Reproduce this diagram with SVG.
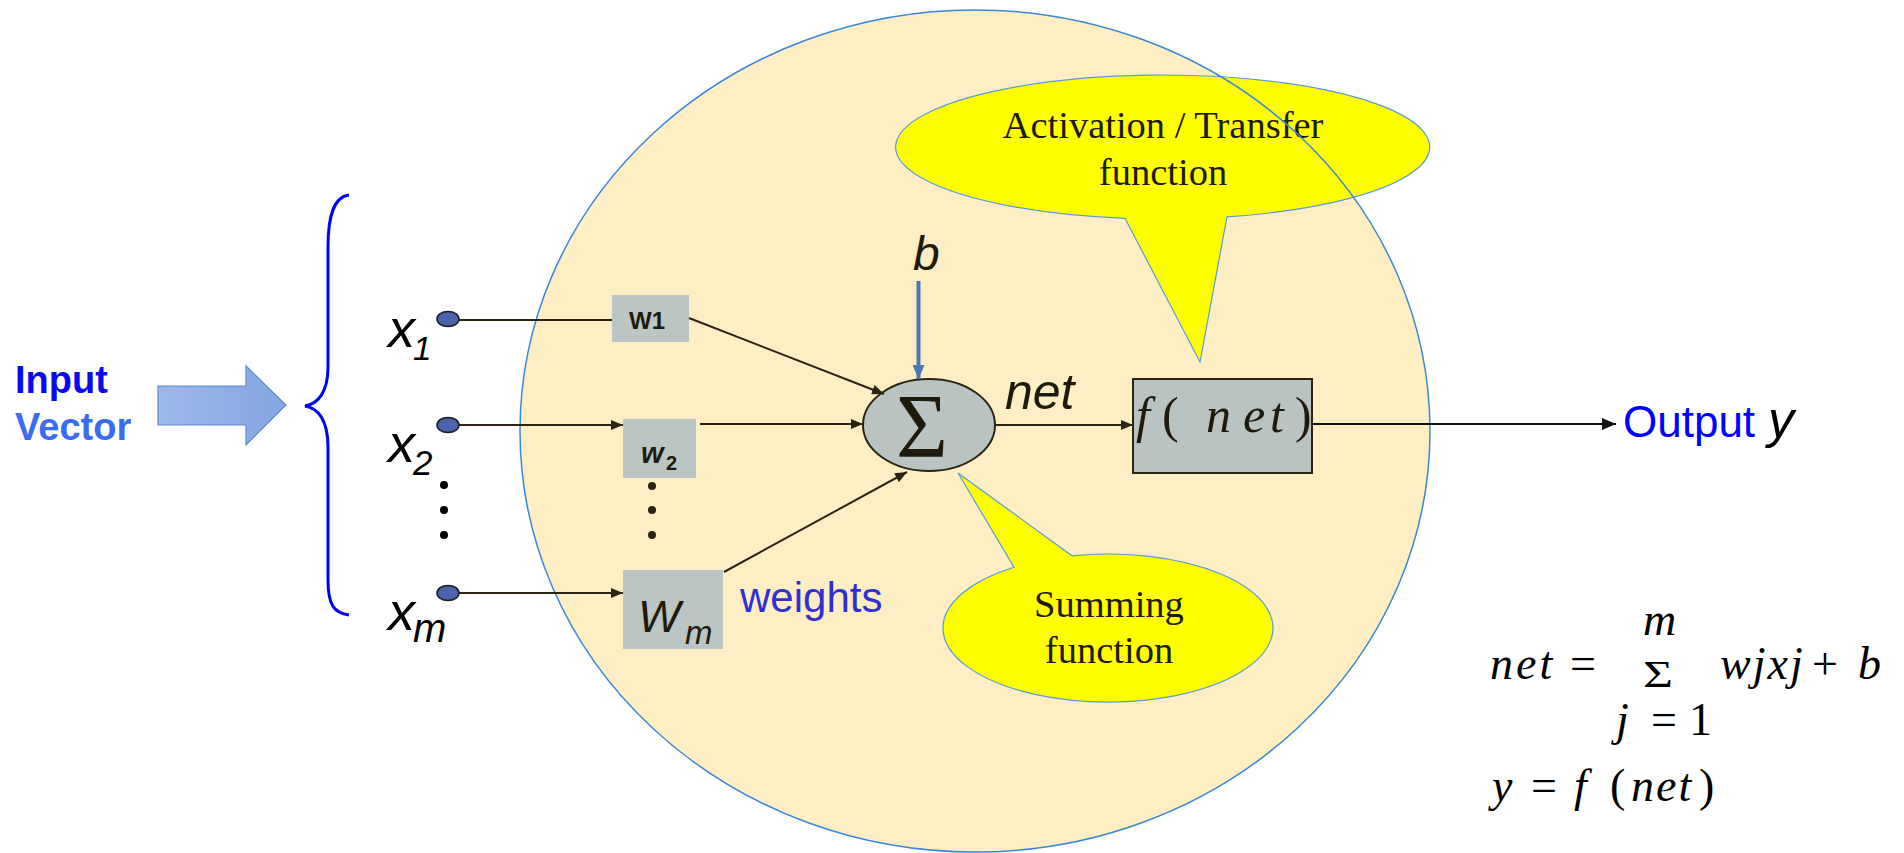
<svg xmlns="http://www.w3.org/2000/svg" width="1904" height="853" viewBox="0 0 1904 853">
<defs>
<linearGradient id="arrowGrad" x1="0" y1="0" x2="1" y2="0">
<stop offset="0" stop-color="#9DB8EA"/>
<stop offset="1" stop-color="#82A6E1"/>
</linearGradient>
<marker id="ah" viewBox="0 0 12 10" refX="12" refY="5" markerWidth="12" markerHeight="10" markerUnits="userSpaceOnUse" orient="auto">
<path d="M0,0 L12,5 L0,10 Z" fill="#2a2410"/>
</marker>
<marker id="ahb" viewBox="0 0 14 12" refX="14" refY="6" markerWidth="14" markerHeight="12" markerUnits="userSpaceOnUse" orient="auto">
<path d="M0,0 L14,6 L0,12 Z" fill="#4A78B5"/>
</marker>
<marker id="ahk" viewBox="0 0 14 12" refX="14" refY="6" markerWidth="14" markerHeight="12" markerUnits="userSpaceOnUse" orient="auto">
<path d="M0,0 L14,6 L0,12 Z" fill="#111"/>
</marker>
</defs>
<style>
.sans{font-family:"Liberation Sans",Arial,sans-serif;}
.serif{font-family:"Liberation Serif","Times New Roman",serif;}
.it{font-style:italic;}
.box{fill:#BAC5C4;}
.call{fill:#FFFF00;stroke:#5B9BD5;stroke-width:1.2;}
.conn{stroke:#2a2410;stroke-width:2;fill:none;}
.dark{fill:#1e1a0c;}
.dot{fill:#4A65AD;stroke:#1a1a1a;stroke-width:1.5;}
</style>
<rect width="1904" height="853" fill="#ffffff"/>

<g id="neuron-body">
<ellipse cx="975" cy="431" rx="455" ry="421" fill="#FEEEC4"/>
</g>

<g id="activation-callout">
<path class="call" d="M1227,216.9 A267,72 0 1 0 1125,218.3 L1200,362 Z"/>
<text class="serif dark" x="1163" y="138" font-size="38.5" text-anchor="middle">Activation / Transfer</text>
<text class="serif dark" x="1163" y="185" font-size="38.5" text-anchor="middle">function</text>
</g>

<g id="summing-callout">
<path class="call" d="M1014,567.2 A165,74 0 1 0 1072,555.8 L958,473 Z"/>
<text class="serif dark" x="1109" y="617" font-size="38.5" text-anchor="middle">Summing</text>
<text class="serif dark" x="1109" y="663" font-size="38.5" text-anchor="middle">function</text>
</g>

<g id="neuron-outline">
<ellipse cx="975" cy="431" rx="455" ry="421" fill="none" stroke="#3A87D8" stroke-width="1.5"/>
</g>

<g id="input-label">
<text class="sans" x="15" y="393" font-size="38" font-weight="bold" fill="#0A0AF0">Input</text>
<text class="sans" x="15" y="440" font-size="38" font-weight="bold" fill="#3A6BF5">Vector</text>
</g>

<g id="input-arrow">
<polygon points="158,386 246,386 246,366 286,405 246,445 246,425 158,425" fill="url(#arrowGrad)" stroke="#5B8AD2" stroke-width="1.2"/>
</g>

<g id="brace">
<path d="M349,195 C334,197 328,215 328,247 L328,367 C328,392 318,404 305,406 C318,408 328,420 328,447 L328,580 C328,605 334,613 349,615" fill="none" stroke="#0000FF" stroke-width="3"/>
</g>

<g id="input-x1">
<text class="sans it" x="388" y="347" font-size="54" fill="#000">x</text>
<text class="sans it" x="413" y="360" font-size="33" fill="#000">1</text>
<ellipse class="dot" cx="448" cy="319" rx="11" ry="7.5"/>
</g>
<g id="input-x2">
<text class="sans it" x="388" y="462" font-size="54" fill="#000">x</text>
<text class="sans it" x="413" y="475" font-size="35" fill="#000">2</text>
<ellipse class="dot" cx="448" cy="425" rx="11" ry="7.5"/>
</g>
<g id="input-dots">
<circle cx="444" cy="485" r="4" fill="#000"/>
<circle cx="444" cy="510" r="4" fill="#000"/>
<circle cx="444" cy="535" r="4" fill="#000"/>
</g>
<g id="input-xm">
<text class="sans it" x="388" y="630" font-size="54" fill="#000">x</text>
<text class="sans it" x="413" y="642" font-size="40" fill="#000">m</text>
<ellipse class="dot" cx="448" cy="593" rx="11" ry="7.5"/>
</g>

<g id="weight-w1">
<rect class="box" x="612" y="295" width="77" height="47"/>
<text class="sans dark" x="647" y="329" font-size="24" font-weight="bold" text-anchor="middle">W1</text>
</g>
<g id="weight-w2">
<rect class="box" x="623" y="419" width="73" height="59"/>
<text class="sans it dark" x="641" y="463" font-size="29" font-weight="bold">w</text>
<text class="sans dark" x="666" y="470" font-size="20" font-weight="bold">2</text>
</g>
<g id="weight-dots">
<circle cx="652" cy="486" r="4" fill="#2a2410"/>
<circle cx="652" cy="510" r="4" fill="#2a2410"/>
<circle cx="652" cy="535" r="4" fill="#2a2410"/>
</g>
<g id="weight-wm">
<rect class="box" x="623" y="570" width="100" height="79"/>
<text class="sans it dark" x="638" y="632" font-size="45">W</text>
<text class="sans it dark" x="685" y="644" font-size="33">m</text>
</g>
<g id="weights-label">
<text class="sans" x="740" y="612" font-size="42" fill="#3030D0">weights</text>
</g>

<g id="bias-label">
<text class="sans it dark" x="913" y="270" font-size="48">b</text>
</g>

<g id="summing-node">
<ellipse cx="929" cy="425" rx="66" ry="46" fill="#B8C3C2" stroke="#2a2410" stroke-width="2"/>
<text class="serif dark" x="896" y="457" font-size="90" textLength="52" lengthAdjust="spacingAndGlyphs">Σ</text>
</g>

<g id="net-label">
<text class="sans it dark" x="1005" y="409" font-size="50">net</text>
</g>

<g id="activation-node">
<rect x="1133" y="379" width="179" height="94" fill="#B8C3C2" stroke="#2a2410" stroke-width="2"/>
<text class="serif dark" y="432" font-size="50"><tspan class="it" x="1136">f</tspan><tspan x="1162">(</tspan><tspan class="it" x="1206">n</tspan><tspan class="it" x="1243">e</tspan><tspan class="it" x="1270">t</tspan><tspan x="1295">)</tspan></text>
</g>

<g id="output-label">
<text class="sans" x="1623" y="437" font-size="44" fill="#0000FF">Output</text>
<text class="sans it" x="1768" y="437" font-size="52" fill="#000">y</text>
</g>

<g id="formula">
<text class="serif it" x="1490" y="679" font-size="46" letter-spacing="3" fill="#000">net</text>
<text class="serif" x="1570" y="679" font-size="46" fill="#000">=</text>
<text class="serif it" x="1643" y="635" font-size="46" fill="#000">m</text>
<text class="serif" x="1643" y="687" font-size="38" textLength="30" lengthAdjust="spacingAndGlyphs" fill="#000">Σ</text>
<text class="serif it" x="1720" y="679" font-size="46" letter-spacing="2" fill="#000">wjxj</text>
<text class="serif" x="1812" y="679" font-size="46" fill="#000">+</text>
<text class="serif it" x="1858" y="679" font-size="46" fill="#000">b</text>
<text class="serif it" x="1616" y="735" font-size="46" fill="#000">j</text>
<text class="serif" x="1651" y="735" font-size="46" fill="#000">=</text>
<text class="serif" x="1689" y="735" font-size="46" fill="#000">1</text>
<text class="serif it" x="1492" y="801" font-size="46" fill="#000">y</text>
<text class="serif" x="1531" y="801" font-size="46" fill="#000">=</text>
<text class="serif it" x="1574" y="801" font-size="46" fill="#000">f</text>
<text class="serif" x="1610" y="801" font-size="46" fill="#000">(</text>
<text class="serif it" x="1631" y="801" font-size="46" letter-spacing="2" fill="#000">net</text>
<text class="serif" x="1699" y="801" font-size="46" fill="#000">)</text>
</g>

<g id="connectors">
<line class="conn" x1="459" y1="320" x2="612" y2="320"/>
<line class="conn" x1="459" y1="425" x2="623" y2="425" marker-end="url(#ah)"/>
<line class="conn" x1="459" y1="593" x2="623" y2="593" marker-end="url(#ah)"/>
<line class="conn" x1="689" y1="318" x2="884" y2="394" marker-end="url(#ah)"/>
<line class="conn" x1="700" y1="424" x2="863" y2="424" marker-end="url(#ah)"/>
<line class="conn" x1="724" y1="572" x2="907" y2="472" marker-end="url(#ah)"/>
<line x1="918.5" y1="281" x2="918.5" y2="379" stroke="#4A78B5" stroke-width="4" marker-end="url(#ahb)"/>
<line class="conn" x1="995" y1="425" x2="1133" y2="425" marker-end="url(#ah)"/>
<line x1="1312" y1="424" x2="1616" y2="424" stroke="#111" stroke-width="2" marker-end="url(#ahk)"/>
</g>
</svg>
